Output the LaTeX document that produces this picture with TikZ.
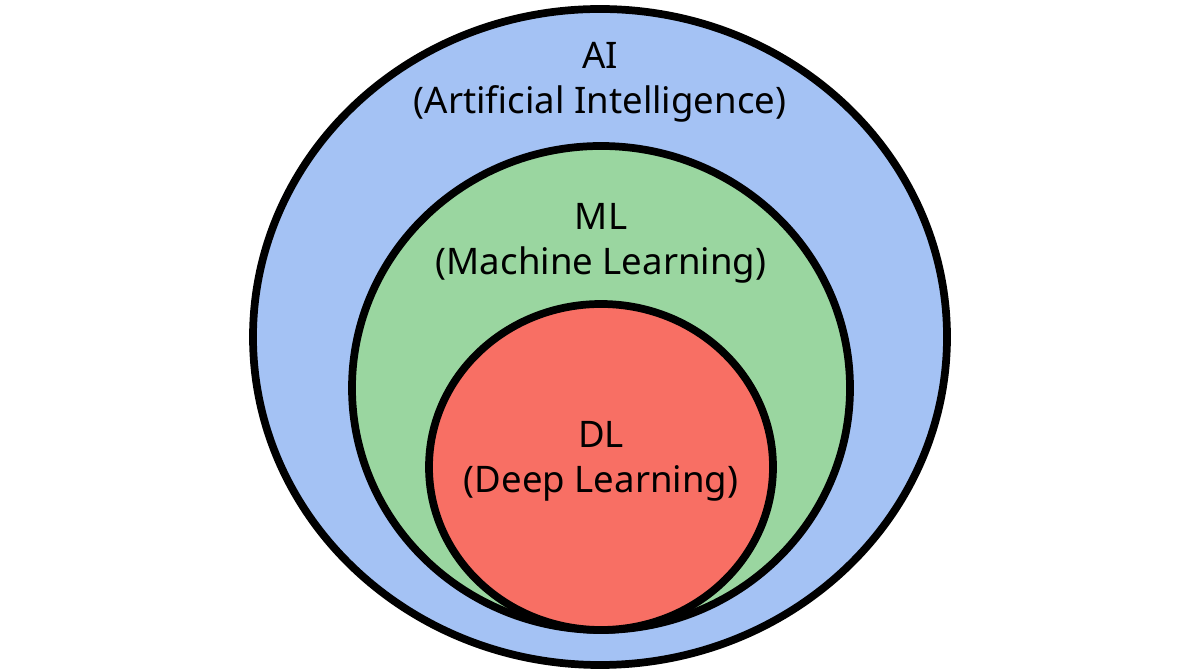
\documentclass[tikz,border=0pt]{standalone}
\usepackage{fontspec}
\setmainfont{Noto Sans}
\definecolor{aiblue}{HTML}{A4C2F4}
\definecolor{mlgreen}{HTML}{9AD6A0}
\definecolor{dlred}{HTML}{F86F64}
\begin{document}
\begin{tikzpicture}[set/.style={draw=black,line width=5.5pt},
  lbl/.style={align=center,font=\fontsize{26}{32}\selectfont}]
		\useasboundingbox[fill=white] (0,0) rectangle (30,16.75);
		\path[set,fill=aiblue] (15,8.325) ellipse [x radius=8.675, y radius=8.2];
		\path[set,fill=mlgreen] (15.025,7.05) ellipse [x radius=6.225, y radius=6.05];
		\path[set,fill=dlred] (15.025,5.075) ellipse [x radius=4.3, y radius=4.075];
		\node(ai)[lbl] at (15,14.7) {AI\\(Artificial Intelligence)};
		\node(ml)[lbl] at (15.025,10.675) {ML\\(Machine Learning)};
		\node(dl)[lbl] at (15.025,5.225) {DL\\(Deep Learning)};
 \end{tikzpicture}
\end{document}
